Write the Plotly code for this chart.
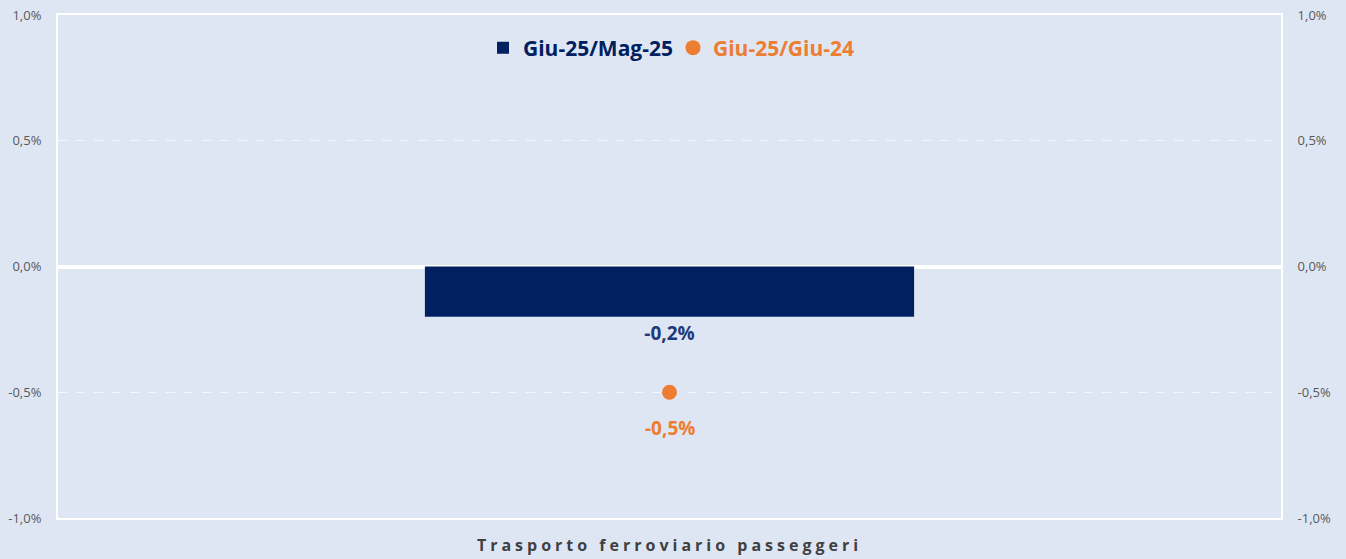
import plotly.graph_objects as go

categories = ["Trasporto ferroviario passeggeri"]
mom_name = "Giu-25/Mag-25"
yoy_name = "Giu-25/Giu-24"
mom_values = [-0.002]
yoy_values = [-0.005]
mom_labels = ["-0,2%"]
yoy_labels = ["-0,5%"]
tick_vals = [-0.01, -0.005, 0.0, 0.005, 0.01]
tick_text = ["-1,0%", "-0,5%", "0,0%", "0,5%", "1,0%"]

NAVY = "#002060"
ORANGE = "#ED7D31"
BG = "#DFE6F3"
FONT = "Open Sans"

L, R, T, B = 58, 65, 15, 41
PW = 1346 - L - R
PH = 559 - T - B

fig = go.Figure()
fig.add_trace(go.Bar(
    x=categories, y=mom_values, name=mom_name,
    marker=dict(color=NAVY, line=dict(width=0)),
    text=mom_labels, textposition="outside", cliponaxis=False,
    textfont=dict(family=FONT, size=19, color="#1F3A7A", weight="bold"),
    legend="legend", yaxis="y",
))
fig.add_trace(go.Scatter(
    x=categories, y=yoy_values, name=yoy_name, mode="markers",
    marker=dict(color=ORANGE, size=15, symbol="circle"),
    legend="legend2", yaxis="y2",
))
for c, v, t in zip(categories, yoy_values, yoy_labels):
    fig.add_annotation(x=c, y=v, yref="y2", text=t, showarrow=False,
                       yshift=-36,
                       font=dict(family=FONT, size=19, color=ORANGE, weight="bold"))

yax = dict(range=[-0.01, 0.01], tickvals=tick_vals, ticktext=tick_text,
           tickfont=dict(family=FONT, size=13, color="#595959"),
           showgrid=True, gridcolor="rgba(255,255,255,0.45)", griddash="dash", gridwidth=1,
           zeroline=True, zerolinecolor="white", zerolinewidth=4,
           showline=True, linecolor="white", linewidth=2,
           ticks="outside", ticklen=12, tickcolor="rgba(0,0,0,0)", fixedrange=True)

leg_y = 1 - (48 - T) / PH

fig.update_layout(
    width=1346, height=559,
    margin=dict(l=L, r=R, t=T, b=B, autoexpand=False),
    paper_bgcolor=BG, plot_bgcolor=BG,
    bargap=0.6,
    showlegend=True,
    xaxis=dict(showline=True, linecolor="white", linewidth=2, mirror=True,
               tickfont=dict(family=FONT, size=16, color="#404040", weight="bold"),
               ticks="outside", ticklen=12, tickcolor="rgba(0,0,0,0)"),
    yaxis=dict(**yax, side="left"),
    yaxis2=dict(**yax, side="right", overlaying="y"),
    legend=dict(orientation="h", xref="paper", yref="paper",
                x=(483 - L) / PW, y=leg_y, xanchor="left", yanchor="middle",
                itemwidth=30, bgcolor="rgba(0,0,0,0)",
                font=dict(family=FONT, size=21, color=NAVY, weight="bold")),
    legend2=dict(orientation="h", xref="paper", yref="paper",
                 x=(673 - L) / PW, y=leg_y, xanchor="left", yanchor="middle",
                 itemwidth=30, bgcolor="rgba(0,0,0,0)",
                 font=dict(family=FONT, size=21, color=ORANGE, weight="bold")),
)

post = """
document.querySelectorAll('.xtick text').forEach(function(t){t.style.letterSpacing='4px';});
"""
fig.write_html("out.html", post_script=post)
